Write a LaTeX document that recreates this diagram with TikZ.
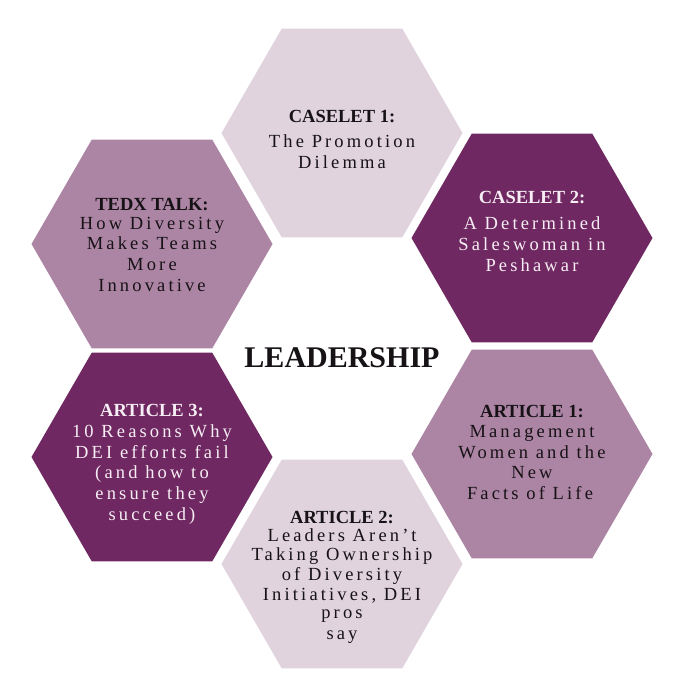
\documentclass[tikz,border=0pt]{standalone}
\usepackage{fontspec}
\setmainfont{Liberation Serif}
\newfontfamily\bodyfont[LetterSpace=17]{Liberation Serif}
\newfontfamily\headfont{Liberation Serif Bold}
\definecolor{hexlight}{RGB}{224,211,222}
\definecolor{hexmid}{RGB}{173,133,164}
\definecolor{hexdark}{RGB}{111,40,97}
\definecolor{inkdark}{RGB}{22,18,22}
\definecolor{inklight}{RGB}{246,238,244}
\newcommand\hexcell[3]{\fill[#3,shift={(#1,#2)}] (120.5,0) -- (60.25,104.35) -- (-60.25,104.35) -- (-120.5,0) -- (-60.25,-104.35) -- (60.25,-104.35) -- cycle;}
\tikzset{
  headtext/.style={font=\headfont\fontsize{18.5}{20}\selectfont, anchor=base, inner sep=0pt},
  bodytext/.style={font=\bodyfont\fontsize{18.5}{21}\selectfont, anchor=base, inner sep=0pt},
  titletext/.style={font=\headfont\fontsize{30}{32}\selectfont, anchor=base, inner sep=0pt, text=inkdark},
  onlight/.style={text=inkdark},
  ondark/.style={text=inklight}
}
\begin{document}
\begin{tikzpicture}[x=1pt,y=-1pt]
\useasboundingbox (0,0) rectangle (674,694);
\fill[white] (0,0) rectangle (674,694);
% hexagons
\hexcell{342}{133}{hexlight}
\hexcell{532}{238}{hexdark}
\hexcell{532}{454}{hexmid}
\hexcell{342}{564}{hexlight}
\hexcell{152}{457}{hexdark}
\hexcell{152}{244}{hexmid}
% centre title
\node[titletext] (title) at (342,367) {LEADERSHIP};
% top: caselet 1
\node[headtext,onlight] (c1h) at (342,122) {CASELET 1:};
\node[bodytext,onlight] (c1a) at (342,147) {The Promotion};
\node[bodytext,onlight] (c1b) at (342,168) {Dilemma};
% top right: caselet 2
\node[headtext,ondark] (c2h) at (532,203) {CASELET 2:};
\node[bodytext,ondark] (c2a) at (532,229) {A Determined};
\node[bodytext,ondark] (c2b) at (532,250) {Saleswoman in};
\node[bodytext,ondark] (c2c) at (532,271) {Peshawar};
% top left: tedx
\node[headtext,onlight] (tdh) at (152,210) {TEDX TALK:};
\node[bodytext,onlight] (tda) at (152,229) {How Diversity};
\node[bodytext,onlight] (tdb) at (152,249) {Makes Teams};
\node[bodytext,onlight] (tdc) at (152,270) {More};
\node[bodytext,onlight] (tdd) at (152,291) {Innovative};
% bottom left: article 3
\node[headtext,ondark] (a3h) at (152,416) {ARTICLE 3:};
\node[bodytext,ondark] (a3a) at (152,437) {10 Reasons Why};
\node[bodytext,ondark] (a3b) at (152,458) {DEI efforts fail};
\node[bodytext,ondark] (a3c) at (152,478) {(and how to};
\node[bodytext,ondark] (a3d) at (152,499) {ensure they};
\node[bodytext,ondark] (a3e) at (152,520) {succeed)};
% bottom right: article 1
\node[headtext,onlight] (a1h) at (532,417) {ARTICLE 1:};
\node[bodytext,onlight] (a1a) at (532,437) {Management};
\node[bodytext,onlight] (a1b) at (532,458) {Women and the};
\node[bodytext,onlight] (a1c) at (532,478) {New};
\node[bodytext,onlight] (a1d) at (530,499) {Facts of Life};
% bottom: article 2
\node[headtext,onlight] (a2h) at (342,523) {ARTICLE 2:};
\node[bodytext,onlight] (a2a) at (342,541) {Leaders Aren’t};
\node[bodytext,onlight] (a2b) at (342,560) {Taking Ownership};
\node[bodytext,onlight] (a2c) at (342,580) {of Diversity};
\node[bodytext,onlight] (a2d) at (342,600) {Initiatives, DEI};
\node[bodytext,onlight] (a2e) at (342,618) {pros};
\node[bodytext,onlight] (a2f) at (342,639) {say};
\end{tikzpicture}
\end{document}
